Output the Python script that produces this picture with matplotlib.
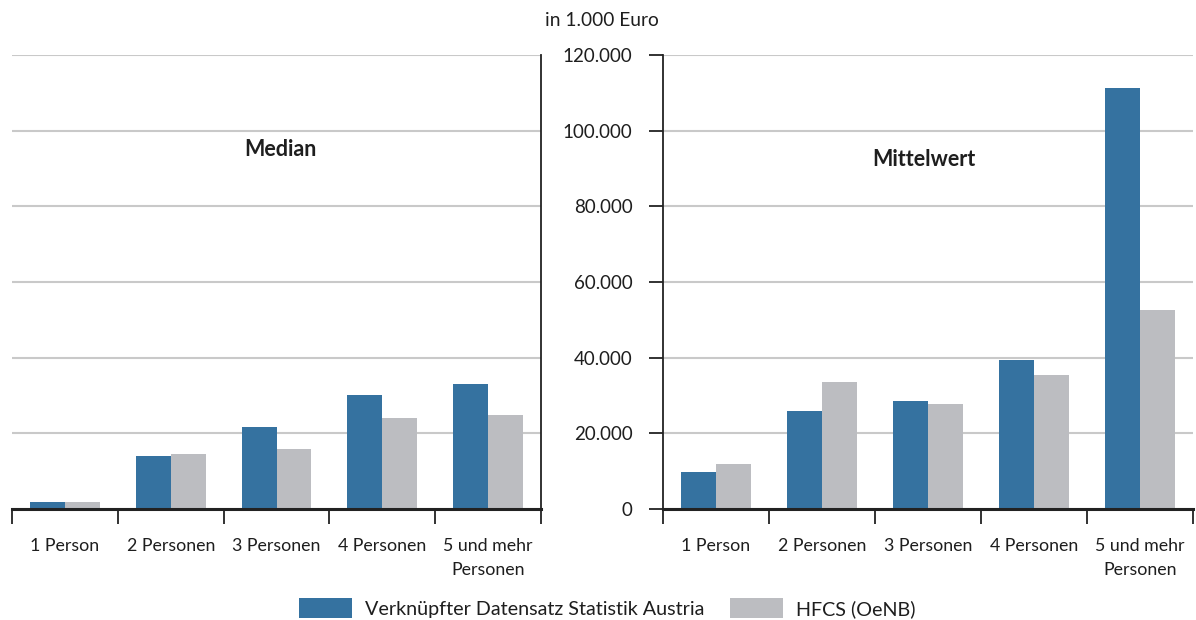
import numpy as np
import matplotlib
matplotlib.use("Agg")
import matplotlib.pyplot as plt
from matplotlib.patches import Patch
from matplotlib.ticker import FuncFormatter, FixedLocator

plt.rcParams["font.family"] = ["Lato", "DejaVu Sans"]

categories = ["1 Person", "2 Personen", "3 Personen", "4 Personen", "5 und mehr\nPersonen"]
median_sta = [1800, 14000, 21700, 30100, 33000]
median_hfcs = [1800, 14500, 15900, 24000, 24800]
mean_sta = [9800, 25900, 28500, 39400, 111300]
mean_hfcs = [11900, 33600, 27700, 35400, 52600]
series_names = ["Verknüpfter Datensatz Statistik Austria", "HFCS (OeNB)"]

blue = "#3572a0"
grey = "#bcbdc1"
text_col = "#1e1e1e"
fs = 12.8

fig = plt.figure(figsize=(11.96, 6.2), dpi=100)
ax1 = fig.add_axes([12 / 1196, 111 / 620, 529 / 1196, 454 / 620])
ax2 = fig.add_axes([663 / 1196, 111 / 620, 530 / 1196, 454 / 620])

x = np.arange(len(categories))
w = 0.33

for ax, a, b, title, tx, ty in [(ax1, median_sta, median_hfcs, "Median", 0.507, 150),
                                (ax2, mean_sta, mean_hfcs, "Mittelwert", 0.493, 160)]:
    ax.bar(x - w / 2, a, width=w, color=blue, zorder=3)
    ax.bar(x + w / 2, b, width=w, color=grey, zorder=3)
    ax.set_xlim(-0.5, 4.5)
    ax.set_ylim(0, 120000)
    ax.set_yticks(np.arange(0, 120001, 20000))
    ax.grid(axis="y", color="#c9c9c9", linewidth=1.5, zorder=0)
    ax.set_xticks(x)
    ax.set_xticklabels(categories, fontsize=fs, color=text_col, linespacing=1.6)
    ax.xaxis.set_minor_locator(FixedLocator(np.arange(-0.5, 5, 1)))
    ax.tick_params(axis="x", which="major", length=0, pad=21)
    ax.tick_params(axis="x", which="minor", length=11, width=1.3, color="#222222")
    ax.spines["top"].set_visible(False)
    ax.spines["bottom"].set_linewidth(2.2)
    ax.spines["bottom"].set_color("#222222")
    ax.spines["bottom"].set_zorder(4)
    ax.text(tx, 1 - (ty - 55) / 454, title, transform=ax.transAxes, ha="center",
            va="center", fontsize=15.5, fontweight="bold", color=text_col)

ax1.spines["left"].set_visible(False)
ax1.spines["right"].set_linewidth(1.3)
ax1.spines["right"].set_color("#222222")
ax1.tick_params(axis="y", length=0, labelleft=False)

ax2.spines["right"].set_visible(False)
ax2.spines["left"].set_linewidth(1.3)
ax2.spines["left"].set_color("#222222")
ax2.tick_params(axis="y", length=10, width=1.3, color="#222222", pad=12,
                labelsize=13.5, labelcolor=text_col)
ax2.yaxis.set_major_formatter(FuncFormatter(lambda v, p: f"{int(v):,}".replace(",", ".")))

fig.text(602 / 1196, 1 - 20 / 620, "in 1.000 Euro", ha="center", va="center",
         fontsize=13.8, color=text_col)

handles = [Patch(facecolor=blue), Patch(facecolor=grey)]
fig.legend(handles, series_names, loc="center", bbox_to_anchor=(607 / 1196, 1 - 608 / 620),
           ncol=2, frameon=False, fontsize=14.2, handlelength=2.7, handleheight=1.15,
           handletextpad=0.65, columnspacing=1.3, labelcolor=text_col)

fig.savefig("out.png", dpi=100)
